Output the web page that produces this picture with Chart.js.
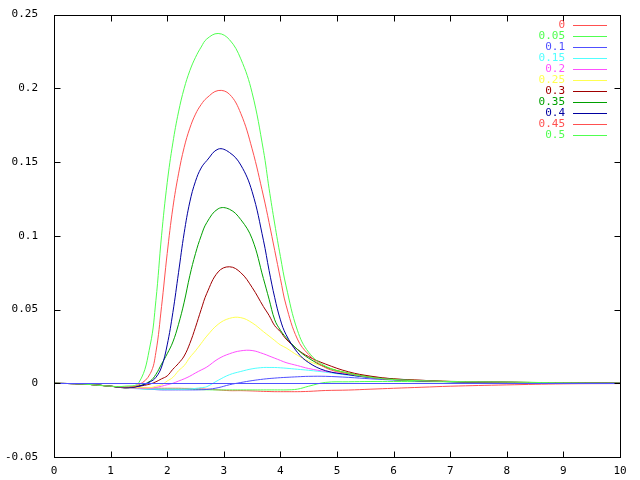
<!DOCTYPE html>
<html>
<head>
<meta charset="utf-8">
<script src="https://cdn.jsdelivr.net/npm/chart.js@4/dist/chart.umd.min.js"></script>
<style>
  html, body { margin: 0; padding: 0; background: #fff; }
  canvas { display: block; }
</style>
</head>
<body>
<canvas id="plot" width="640" height="480"></canvas>
<script>
// sample positions along x (shared by every curve)
var xValues = [0, 0.5, 1, 1.25, 1.5, 1.7, 1.8, 1.9, 2.0, 2.1, 2.2, 2.3, 2.4, 2.5, 2.6, 2.7, 2.9, 3.1, 3.3, 3.5, 3.7, 3.8, 3.9, 4.0, 4.1, 4.3, 4.5, 4.8, 5.2, 5.6, 6, 6.5, 7, 8, 9, 10];

var series000 = [0, -0.0005, -0.002, -0.0028, -0.003, -0.0032, -0.0033, -0.0034, -0.0034, -0.0034, -0.0034, -0.0035, -0.0035, -0.0036, -0.0038, -0.004, -0.0045, -0.005, -0.005, -0.0052, -0.0055, -0.0056, -0.0057, -0.0057, -0.0057, -0.0057, -0.0055, -0.0049, -0.0046, -0.004, -0.0034, -0.0027, -0.002, -0.0011, -0.0004, -0.0002];
var series005 = [0, -0.0005, -0.002, -0.003, -0.0035, -0.004, -0.004, -0.004, -0.004, -0.004, -0.004, -0.004, -0.0041, -0.0042, -0.0043, -0.0044, -0.0045, -0.0045, -0.0045, -0.0045, -0.0045, -0.0045, -0.0045, -0.0045, -0.0045, -0.004, -0.002, 0.0006, 0.001, 0.0012, 0.0012, 0.0011, 0.001, 0.0008, 0.0003, 0];
var series010 = [0, -0.0005, -0.002, -0.003, -0.0035, -0.004, -0.0043, -0.0045, -0.0045, -0.0045, -0.0045, -0.0045, -0.0045, -0.0045, -0.0044, -0.0042, -0.003, -0.001, 0.0005, 0.0018, 0.0028, 0.0032, 0.0035, 0.0038, 0.004, 0.0044, 0.0047, 0.0047, 0.004, 0.003, 0.0022, 0.0016, 0.0011, 0.0006, 0.0003, 0];
var series015 = [0, -0.0005, -0.002, -0.003, -0.0038, -0.004, -0.004, -0.004, -0.004, -0.004, -0.004, -0.004, -0.0038, -0.0035, -0.003, -0.0023, 0.002, 0.0058, 0.008, 0.0098, 0.0107, 0.0107, 0.0107, 0.0105, 0.0102, 0.0095, 0.0088, 0.0075, 0.0055, 0.004, 0.003, 0.002, 0.0013, 0.0007, 0.0003, 0];
var series020 = [0, -0.0005, -0.002, -0.003, -0.0034, -0.0034, -0.0028, -0.002, -0.001, 0, 0.0015, 0.003, 0.0048, 0.007, 0.009, 0.011, 0.0165, 0.02, 0.022, 0.0222, 0.02, 0.0185, 0.017, 0.0155, 0.014, 0.012, 0.01, 0.008, 0.0062, 0.0045, 0.003, 0.002, 0.0013, 0.0007, 0.0003, 0];
var series025 = [0, -0.0005, -0.002, -0.003, -0.003, -0.003, -0.002, -0.001, 0.0015, 0.004, 0.0085, 0.012, 0.0175, 0.022, 0.027, 0.032, 0.04, 0.044, 0.0445, 0.041, 0.035, 0.032, 0.029, 0.026, 0.024, 0.019, 0.015, 0.011, 0.007, 0.0045, 0.003, 0.002, 0.0013, 0.0007, 0.0003, 0];
var series030 = [0, -0.0005, -0.002, -0.003, -0.002, -0.0005, 0.001, 0.003, 0.005, 0.0095, 0.0135, 0.0185, 0.027, 0.038, 0.05, 0.061, 0.0755, 0.079, 0.075, 0.065, 0.052, 0.046, 0.039, 0.035, 0.03, 0.023, 0.018, 0.013, 0.0078, 0.0048, 0.003, 0.002, 0.0012, 0.0007, 0.0003, 0];
var series035 = [0, -0.0005, -0.002, -0.003, -0.0018, 0.0015, 0.006, 0.013, 0.02, 0.028, 0.04, 0.055, 0.073, 0.088, 0.1, 0.109, 0.1183, 0.118, 0.111, 0.098, 0.071, 0.057, 0.043, 0.036, 0.031, 0.023, 0.017, 0.011, 0.0068, 0.0042, 0.0027, 0.0017, 0.0011, 0.0006, 0.0003, 0];
var series040 = [0, -0.0005, -0.002, -0.003, -0.002, 0.001, 0.004, 0.011, 0.026, 0.048, 0.075, 0.102, 0.123, 0.137, 0.146, 0.151, 0.1588, 0.1565, 0.148, 0.13, 0.097, 0.0765, 0.058, 0.043, 0.033, 0.021, 0.014, 0.0085, 0.0058, 0.0038, 0.0025, 0.0016, 0.0011, 0.0006, 0.0003, 0];
var series045 = [0, -0.0005, -0.002, -0.0025, -0.001, 0.0065, 0.021, 0.052, 0.088, 0.119, 0.142, 0.16, 0.173, 0.1825, 0.189, 0.1935, 0.1985, 0.196, 0.183, 0.159, 0.127, 0.109, 0.09, 0.071, 0.053, 0.03, 0.0195, 0.0105, 0.0065, 0.004, 0.0025, 0.0017, 0.0012, 0.0007, 0.0003, 0];
var series050 = [0, -0.0005, -0.002, -0.002, 0.0005, 0.026, 0.056, 0.1, 0.136, 0.163, 0.184, 0.2, 0.212, 0.221, 0.228, 0.2335, 0.2372, 0.233, 0.22, 0.197, 0.158, 0.132, 0.108, 0.086, 0.066, 0.036, 0.021, 0.0115, 0.0068, 0.004, 0.0025, 0.0017, 0.0012, 0.0008, 0.0003, 0];

var seriesNames = ['0', '0.05', '0.1', '0.15', '0.2', '0.25', '0.3', '0.35', '0.4', '0.45', '0.5'];
var seriesValues = [series000, series005, series010, series015, series020, series025, series030, series035, series040, series045, series050];
var seriesColors = ['#ff5050', '#50ff50', '#5050ff', '#50ffff', '#ff50ff', '#ffff50', '#a00000', '#00a000', '#0000a0', '#ff5050', '#50ff50'];

var xTicks = [0, 1, 2, 3, 4, 5, 6, 7, 8, 9, 10];
var yTicks = [-0.05, 0, 0.05, 0.1, 0.15, 0.2, 0.25];
var yTickLabels = ['-0.05', '0', '0.05', '0.1', '0.15', '0.2', '0.25'];

var FONT = '"DejaVu Sans Mono", "Liberation Mono", monospace';
var TICK = 6;

// gnuplot look: full frame, inward mirrored ticks, blue zero axis, key top right
var gnuplotFrame = {
	id: 'gnuplotFrame',
	afterDatasetsDraw: function(chart) {
		var ctx = chart.ctx;
		var a = chart.chartArea;
		var xs = chart.scales.x;
		var ys = chart.scales.y;
		ctx.save();
		ctx.lineWidth = 1;

		var y0 = Math.round(ys.getPixelForValue(0)) + 0.5;
		ctx.strokeStyle = '#5050ff';
		ctx.beginPath();
		ctx.moveTo(a.left, y0);
		ctx.lineTo(a.right, y0);
		ctx.stroke();

		ctx.strokeStyle = '#000';
		var L = Math.round(a.left) + 0.5, R = Math.round(a.right) + 0.5;
		var T = Math.round(a.top) + 0.5, B = Math.round(a.bottom) + 0.5;
		ctx.strokeRect(L, T, R - L, B - T);

		ctx.beginPath();
		xTicks.forEach(function(v) {
			var px = Math.round(xs.getPixelForValue(v)) + 0.5;
			ctx.moveTo(px, B); ctx.lineTo(px, B - TICK);
			ctx.moveTo(px, T); ctx.lineTo(px, T + TICK);
		});
		yTicks.forEach(function(v) {
			var py = Math.round(ys.getPixelForValue(v)) + 0.5;
			ctx.moveTo(L, py); ctx.lineTo(L + TICK, py);
			ctx.moveTo(R, py); ctx.lineTo(R - TICK, py);
		});
		ctx.stroke();

		// key
		ctx.font = '11px ' + FONT;
		ctx.textAlign = 'right';
		ctx.textBaseline = 'middle';
		chart.data.datasets.forEach(function(ds, i) {
			var ky = Math.round(a.top + 10 + 11 * i) + 0.5;
			ctx.fillStyle = ds.borderColor;
			ctx.fillText(ds.label, a.left + 511, ky);
			ctx.strokeStyle = ds.borderColor;
			ctx.beginPath();
			ctx.moveTo(a.left + 519, ky);
			ctx.lineTo(a.left + 553, ky);
			ctx.stroke();
		});
		ctx.restore();
	}
};

var datasets = seriesNames.map(function(name, i) {
	return {
		label: name,
		data: xValues.map(function(x, j) { return { x: x, y: seriesValues[i][j] }; }),
		borderColor: seriesColors[i],
		backgroundColor: seriesColors[i],
		borderWidth: 1,
		pointRadius: 0,
		fill: false,
		tension: 0.4,
		order: seriesNames.length - i
	};
});

new Chart(document.getElementById('plot'), {
	type: 'line',
	data: { datasets: datasets },
	plugins: [gnuplotFrame],
	options: {
		responsive: false,
		animation: false,
		devicePixelRatio: 1,
		layout: { padding: { top: 13, right: 20, left: 0, bottom: 0 } },
		plugins: {
			legend: { display: false },
			tooltip: { enabled: false }
		},
		scales: {
			x: {
				type: 'linear',
				min: 0,
				max: 10,
				afterBuildTicks: function(scale) {
					scale.ticks = xTicks.map(function(v) { return { value: v }; });
				},
				afterFit: function(scale) { scale.height = 23; },
				grid: { display: false },
				border: { display: false },
				ticks: {
					color: '#000',
					padding: 0,
					maxRotation: 0,
					font: { family: FONT, size: 11 },
					callback: function(v) { return String(v); }
				}
			},
			y: {
				type: 'linear',
				min: -0.05,
				max: 0.25,
				afterBuildTicks: function(scale) {
					scale.ticks = yTicks.map(function(v) { return { value: v }; });
				},
				afterFit: function(scale) { scale.width = 54; },
				grid: { display: false },
				border: { display: false },
				ticks: {
					color: '#000',
					padding: 8,
					font: { family: FONT, size: 11 },
					callback: function(v, idx) { return yTickLabels[idx]; }
				}
			}
		}
	}
});
</script>
</body>
</html>
